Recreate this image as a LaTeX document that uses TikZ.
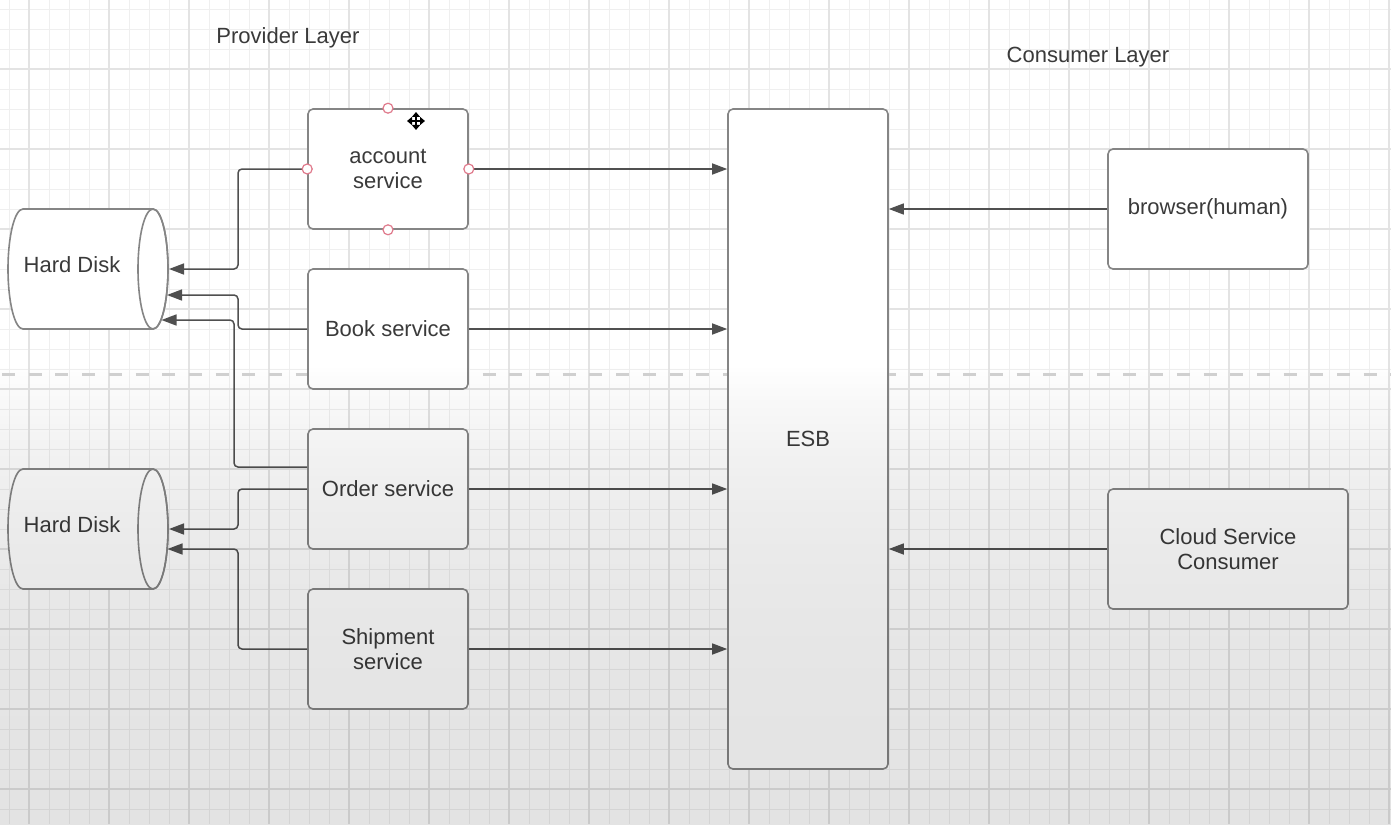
\documentclass[tikz,border=0pt]{standalone}
\usepackage{fontspec}
\setmainfont{Liberation Sans}
\usetikzlibrary{arrows.meta}
\definecolor{gridminor}{HTML}{EFEFEF}
\definecolor{gridmajor}{HTML}{E3E3E3}
\definecolor{boxline}{HTML}{858585}
\definecolor{connc}{HTML}{505050}
\definecolor{txt}{HTML}{3A3A3A}
\definecolor{handlec}{HTML}{E07A8C}
\definecolor{divider}{HTML}{D2D2D2}
\begin{document}
\begin{tikzpicture}[x=1pt,y=-1pt,
  every node/.style={font=\fontsize{22}{25.5}\selectfont, text=txt},
  svc/.style={draw=boxline, line width=1.6pt, fill=white, rounded corners=5pt,
    minimum width=160pt, minimum height=120pt, align=center, inner sep=0pt},
  link/.style={draw=connc, line width=1.5pt, rounded corners=4pt,
    -{Triangle[length=15pt,width=11pt]}},
  disk/.style={draw=boxline, line width=1.6pt, fill=white},
  handlept/.style={circle, draw=handlec, fill=white, line width=1.2pt,
    minimum size=10pt, inner sep=0pt},
  divline/.style={draw=divider, line width=3pt, dash pattern=on 13pt off 13.7pt},
  movecur/.style={line width=2.4pt, black,
    {Triangle[length=5pt,width=8pt]}-{Triangle[length=5pt,width=8pt]}}
]
\useasboundingbox (0,0) rectangle (1391,824);
\fill[white] (0,0) rectangle (1391,824);
% grid
\foreach \x in {9,29,...,1389} \draw[gridminor, line width=0.9pt] (\x,0) -- (\x,824);
\foreach \y in {9,29,...,820} \draw[gridminor, line width=0.9pt] (0,\y) -- (1391,\y);
\foreach \x in {29,109,...,1389} \draw[gridmajor, line width=1.3pt] (\x,0) -- (\x,824);
\foreach \y in {69,149,...,820} \draw[gridmajor, line width=1.3pt] (0,\y) -- (1391,\y);
% divider
\draw[divline] (2,374) -- (1391,374);

% layer titles
\node (prov) at (288,38) {Provider Layer};
\node (cons) at (1088,57) {Consumer Layer};

% hard disks
\path[disk] (23,209) -- (153,209) arc[start angle=-90, end angle=90, x radius=15, y radius=60]
  -- (23,329) arc[start angle=90, end angle=270, x radius=15, y radius=60] -- cycle;
\draw[boxline, line width=1.6pt] (153,269) ellipse[x radius=15, y radius=60];
\node (hd1) at (72,265) {Hard Disk};
\path[disk] (23,469) -- (153,469) arc[start angle=-90, end angle=90, x radius=15, y radius=60]
  -- (23,589) arc[start angle=90, end angle=270, x radius=15, y radius=60] -- cycle;
\draw[boxline, line width=1.6pt] (153,529) ellipse[x radius=15, y radius=60];
\node (hd2) at (72,525) {Hard Disk};
\coordinate (hd1a) at (169,269);
\coordinate (hd1b) at (167,295);
\coordinate (hd1c) at (161.5,320);
\coordinate (hd2a) at (169,529);
\coordinate (hd2b) at (167.5,549);

% boxes
\node[svc] (acc) at (388,169) {account\\service};
\node[svc] (book) at (388,329) {Book service};
\node[svc] (order) at (388,489) {Order service};
\node[svc] (ship) at (388,649) {Shipment\\service};
\node[svc, minimum height=660pt] (esb) at (808,439) {ESB};
\node[svc, minimum width=200pt] (brow) at (1208,209) {browser(human)};
\node[svc, minimum width=240pt] (cloud) at (1228,549) {Cloud Service\\Consumer};

% connectors to disks
\draw[link] (acc.west) -- (238,169) |- (hd1a);
\draw[link] (book.west) -- (238,329) |- (hd1b);
\draw[link] ([yshift=22pt]order.west) -- (234,467) |- (hd1c);
\draw[link] (order.west) -- (238,489) |- (hd2a);
\draw[link] (ship.west) -- (238,649) |- (hd2b);
% connectors to ESB
\draw[link] (acc.east) -- (esb.west |- acc.east);
\draw[link] (book.east) -- (esb.west |- book.east);
\draw[link] (order.east) -- (esb.west |- order.east);
\draw[link] (ship.east) -- (esb.west |- ship.east);
\draw[link] (brow.west) -- (esb.east |- brow.west);
\draw[link] (cloud.west) -- (esb.east |- cloud.west);

% shading overlay (screenshot gradient)
\foreach \k in {0,...,115} {
  \pgfmathsetmacro{\yy}{364+4*\k}
  \pgfmathsetmacro{\op}{0.115*(1-exp(-(\yy+2-364)/150))}
  \fill[black, opacity=\op] (0,\yy) rectangle (1391,\yy+4);
}

% selection handles and move cursor
\node[handlept] (h1) at (acc.north) {};
\node[handlept] (h2) at (acc.south) {};
\node[handlept] (h3) at (acc.west) {};
\node[handlept] (h4) at (acc.east) {};
\coordinate (curc) at (416,121);
\draw[movecur] ([xshift=-9pt]curc) -- ([xshift=9pt]curc);
\draw[movecur] ([yshift=-9pt]curc) -- ([yshift=9pt]curc);
\end{tikzpicture}
\end{document}
